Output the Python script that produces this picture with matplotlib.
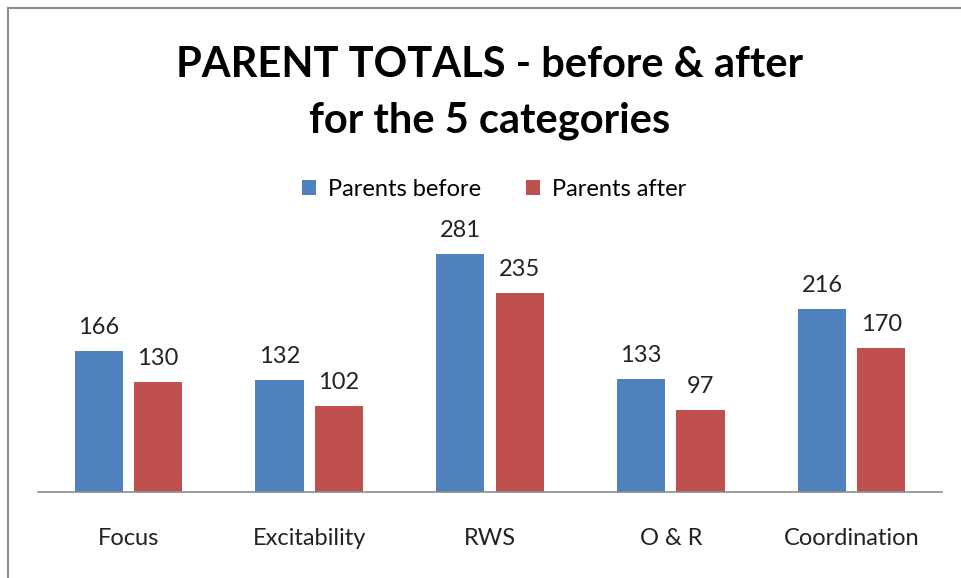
import matplotlib.pyplot as plt
import matplotlib.patches as mpatches
import numpy as np

# chart data
categories = ['Focus', 'Excitability', 'RWS', 'O & R', 'Coordination']
parents_before = [166, 132, 281, 133, 216]
parents_after = [130, 102, 235, 97, 170]

blue = '#4F81BD'
red = '#C0504D'
plt.rcParams['font.family'] = ['Lato', 'DejaVu Sans']

W, H = 962, 578
fig = plt.figure(figsize=(W / 100, H / 100), dpi=100)

# chart border (only top and left edges are visible in the crop)
fig.patches.append(mpatches.Rectangle((8 / W, -0.1), 1.2, (H - 8) / H + 0.1,
                                      transform=fig.transFigure, fill=False,
                                      edgecolor='#8c8c8c', linewidth=1.5))

ax = fig.add_axes([38 / W, (H - 492) / H, 904 / W, (492 - 212) / H])

index = np.arange(len(categories))
bar_width = 0.267
offset = 0.164
b1 = ax.bar(index - offset, parents_before, width=bar_width, color=blue, label='Parents before')
b2 = ax.bar(index + offset, parents_after, width=bar_width, color=red, label='Parents after')

for bars in (b1, b2):
    for rect in bars:
        ax.annotate(str(int(rect.get_height())),
                    (rect.get_x() + rect.get_width() / 2, rect.get_height()),
                    xytext=(0, 13), textcoords='offset pixels',
                    ha='center', va='bottom', fontsize=17, color='#222222')

ax.set_xlim(-0.5, len(categories) - 0.5)
ax.set_ylim(0, 330.6)
ax.set_xticks(index)
ax.set_xticklabels(categories, fontsize=17, color='#222222')
ax.tick_params(axis='x', length=0, pad=26)
ax.set_yticks([])
for side in ('top', 'right', 'left'):
    ax.spines[side].set_visible(False)
ax.spines['bottom'].set_color('#8c8c8c')
ax.spines['bottom'].set_linewidth(1.2)

fig.text(490 / W, (H - 93) / H, 'PARENT TOTALS - before & after\nfor the 5 categories',
         ha='center', va='center', fontsize=30, fontweight='bold',
         linespacing=1.55, color='black')

fig.legend(handles=[b1, b2], loc='center', bbox_to_anchor=(494 / W, (H - 189) / H),
           ncol=2, frameon=False, fontsize=17, handlelength=0.6, handleheight=0.6,
           handletextpad=0.5, columnspacing=1.9)

plt.savefig('out.png', dpi=100)
